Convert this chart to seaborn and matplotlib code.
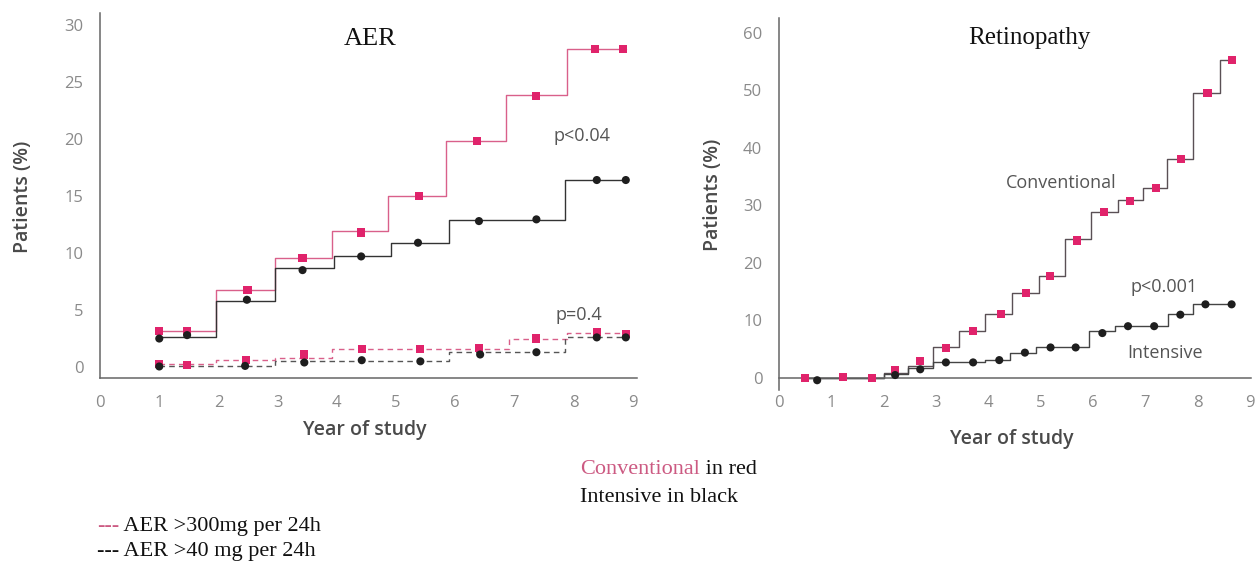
import numpy as np
import pandas as pd
import matplotlib
matplotlib.use("Agg")
import matplotlib.pyplot as plt
import seaborn as sns

# ---------------- data ----------------
# AER panel: step lines (time of step, level) and marker points
aer_conv_step_x = [1.0, 1.95, 2.95, 3.92, 4.87, 5.85, 6.86, 7.88, 8.88]
aer_conv_step_y = [3.2, 6.8, 9.6, 11.9, 15.0, 19.8, 23.9, 27.9, 27.9]
aer_int_step_x = [1.0, 1.95, 2.95, 3.95, 4.92, 5.9, 7.85, 8.88]
aer_int_step_y = [2.6, 5.8, 8.7, 9.7, 10.9, 12.9, 16.4, 16.4]
aer_conv_mk_x = [1.0, 1.47, 2.49, 3.42, 4.41, 5.38, 6.37, 7.37, 8.36, 8.83]
aer_conv_mk_y = [3.2, 3.2, 6.75, 9.6, 11.8, 15.0, 19.8, 23.8, 27.9, 27.9]
aer_int_mk_x = [1.0, 1.47, 2.48, 3.42, 4.41, 5.37, 6.4, 7.37, 8.39, 8.88]
aer_int_mk_y = [2.5, 2.8, 5.9, 8.5, 9.7, 10.9, 12.8, 12.95, 16.4, 16.4]

aer300_conv_step_x = [1.0, 1.95, 2.95, 3.92, 6.9, 7.88, 8.88]
aer300_conv_step_y = [0.3, 0.6, 0.8, 1.6, 2.5, 3.0, 3.0]
aer40_int_step_x = [1.0, 2.95, 5.9, 7.85, 8.88]
aer40_int_step_y = [0.1, 0.5, 1.3, 2.6, 2.6]
aer300_conv_mk_x = [1.0, 1.47, 2.47, 3.45, 4.42, 5.41, 6.4, 7.37, 8.39, 8.88]
aer300_conv_mk_y = [0.3, 0.2, 0.6, 1.1, 1.6, 1.6, 1.7, 2.5, 3.05, 2.9]
aer40_int_mk_x = [1.0, 2.45, 3.45, 4.42, 5.41, 6.42, 7.37, 8.39, 8.88]
aer40_int_mk_y = [0.05, 0.1, 0.4, 0.6, 0.5, 1.1, 1.3, 2.6, 2.6]

# Retinopathy panel
ret_conv_step_x = [0.45, 2.0, 2.47, 2.94, 3.45, 3.94, 4.45, 4.96, 5.47, 5.96, 6.47, 6.96, 7.42, 7.92, 8.43, 8.7]
ret_conv_step_y = [0.0, 0.9, 2.0, 5.3, 8.2, 11.2, 14.7, 17.8, 24.1, 28.9, 30.9, 33.1, 38.1, 49.5, 55.3, 55.3]
ret_int_step_x = [0.5, 2.0, 2.47, 2.94, 3.94, 4.42, 4.92, 5.92, 6.42, 7.43, 7.92, 8.7]
ret_int_step_y = [0.0, 0.6, 1.7, 2.7, 3.2, 4.4, 5.4, 8.1, 9.1, 11.1, 12.9, 12.9]
ret_conv_mk_x = [0.49, 1.23, 1.77, 2.22, 2.7, 3.19, 3.71, 4.25, 4.72, 5.18, 5.7, 6.21, 6.7, 7.2, 7.68, 8.19, 8.66]
ret_conv_mk_y = [0.0, 0.2, 0.0, 1.4, 2.9, 5.2, 8.1, 11.1, 14.7, 17.7, 23.9, 28.8, 30.8, 33.1, 38.1, 49.5, 55.3]
ret_int_mk_x = [0.73, 2.22, 2.7, 3.19, 3.71, 4.21, 4.7, 5.19, 5.67, 6.18, 6.67, 7.17, 7.67, 8.15, 8.65]
ret_int_mk_y = [-0.4, 0.5, 1.5, 2.7, 2.7, 3.1, 4.4, 5.3, 5.3, 7.8, 9.0, 9.0, 11.0, 12.8, 12.8]

x_ticks = list(range(0, 10))
aer_y_ticks = [0, 5, 10, 15, 20, 25, 30]
ret_y_ticks = [0, 10, 20, 30, 40, 50, 60]

# ---------------- style ----------------
sns.set_style("white")
plt.rcParams["font.family"] = ["Open Sans", "DejaVu Sans"]
SERIF = ["Liberation Serif", "DejaVu Serif"]
PINK = "#e0236b"
PINK_LINE = "#d9608a"
DARK = "#1e1e1e"
TICKC = "#8a8a8a"
LABELC = "#4a4a4a"

fig = plt.figure(figsize=(12.57, 5.64), dpi=100)
axL = fig.add_axes([0.0796, 0.3298, 0.4272, 0.6472])
axR = fig.add_axes([0.6197, 0.3085, 0.3755, 0.6596])


def steps(ax, xs, ys, color, ls="-", lw=1.0):
    df = pd.DataFrame({"x": xs, "y": ys})
    sns.lineplot(data=df, x="x", y="y", ax=ax, color=color, lw=lw, linestyle=ls,
                 drawstyle="steps-post", estimator=None, sort=False, legend=False)


def marks(ax, xs, ys, color, marker):
    df = pd.DataFrame({"x": xs, "y": ys})
    sns.scatterplot(data=df, x="x", y="y", ax=ax, color=color, marker=marker,
                    s=34, edgecolor="none", linewidth=0, legend=False, zorder=4)


# AER panel
steps(axL, aer_conv_step_x, aer_conv_step_y, PINK_LINE)
steps(axL, aer_int_step_x, aer_int_step_y, "#333333")
steps(axL, aer300_conv_step_x, aer300_conv_step_y, PINK_LINE, ls=(0, (4, 3)))
steps(axL, aer40_int_step_x, aer40_int_step_y, "#555555", ls=(0, (4, 3)))
marks(axL, aer_conv_mk_x, aer_conv_mk_y, PINK, "s")
marks(axL, aer_int_mk_x, aer_int_mk_y, DARK, "o")
marks(axL, aer300_conv_mk_x, aer300_conv_mk_y, PINK, "s")
marks(axL, aer40_int_mk_x, aer40_int_mk_y, DARK, "o")

# Retinopathy panel
steps(axR, ret_conv_step_x, ret_conv_step_y, "#5a5055")
steps(axR, ret_int_step_x, ret_int_step_y, "#444444")
marks(axR, ret_conv_mk_x, ret_conv_mk_y, PINK, "s")
marks(axR, ret_int_mk_x, ret_int_mk_y, DARK, "o")

for ax, yt in ((axL, aer_y_ticks), (axR, ret_y_ticks)):
    sns.despine(ax=ax)
    ax.set_xticks(x_ticks)
    ax.set_yticks(yt)
    ax.tick_params(axis="both", direction="out", length=6, width=1, color="#666666",
                   labelcolor=TICKC, labelsize=12, pad=6)
    for sp in ("left", "bottom"):
        ax.spines[sp].set_color("#666666")
        ax.spines[sp].set_linewidth(1.1)
    ax.set_xlabel("Year of study", fontsize=14, color=LABELC, fontweight="semibold")
    ax.set_ylabel("Patients (%)", fontsize=14, color=LABELC, fontweight="semibold")

axL.set_xlim(0, 9.07)
axL.set_ylim(-0.96, 31.05)
axR.set_xlim(0, 9.02)
axR.set_ylim(-2.1, 62.6)
axR.spines["bottom"].set_position(("data", 0))

axL.yaxis.set_label_coords(-0.125, 0.496)
axR.yaxis.set_label_coords(-0.118, 0.524)
axL.xaxis.set_label_coords(0.493, -0.114)
axR.xaxis.set_label_coords(0.494, -0.104)

axL.text(0.503, 0.93, "AER", transform=axL.transAxes, ha="center", va="center",
         fontsize=19, family=SERIF, color="#111111")
axR.text(0.531, 0.946, "Retinopathy", transform=axR.transAxes, ha="center", va="center",
         fontsize=18, family=SERIF, color="#111111")

axL.text(8.14, 20.3, "p<0.04", ha="center", va="center", fontsize=13, color="#555555")
axL.text(8.09, 4.6, "p=0.4", ha="center", va="center", fontsize=13, color="#555555")
axR.text(5.4, 33.9, "Conventional", ha="center", va="center", fontsize=13, color="#555555")
axR.text(7.36, 15.8, "p<0.001", ha="center", va="center", fontsize=13, color="#555555")
axR.text(7.38, 4.3, "Intensive", ha="center", va="center", fontsize=13, color="#555555")

# bottom notes
t1 = fig.text(0.4614, 0.167, "Conventional", ha="left", va="center", fontsize=16,
              family=SERIF, color="#cc5a82")
axL.annotate(" in red", xy=(1, 0), xycoords=t1, ha="left", va="bottom",
             fontsize=16, family=SERIF, color="#111111", annotation_clip=False)
fig.text(0.4614, 0.1186, "Intensive in black", ha="left", va="center", fontsize=16,
         family=SERIF, color="#111111")
t3 = fig.text(0.077, 0.067, "---", ha="left", va="center", fontsize=16,
              family=SERIF, color="#cc5a82")
axL.annotate(" AER >300mg per 24h", xy=(1, 0), xycoords=t3, ha="left", va="bottom",
             fontsize=16, family=SERIF, color="#111111", annotation_clip=False)
fig.text(0.077, 0.022, "--- AER >40 mg per 24h", ha="left", va="center", fontsize=16,
         family=SERIF, color="#111111")

fig.savefig("out.png", dpi=100)
